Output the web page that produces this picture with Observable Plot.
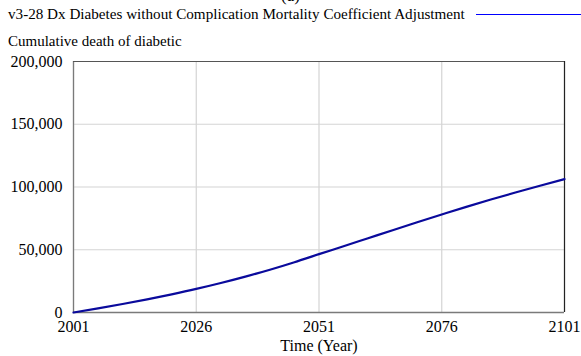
<!DOCTYPE html>
<html>
<head>
<meta charset="utf-8">
<script src="https://cdn.jsdelivr.net/npm/d3@7"></script>
<script src="https://cdn.jsdelivr.net/npm/@observablehq/plot@0.6"></script>
<style>
  html, body { margin: 0; padding: 0; background: white; }
  #wrap { position: relative; width: 581px; height: 356px; overflow: hidden; font-family: "Liberation Serif", serif; color: #000; }
  #title { position: absolute; top: -14px; left: 0; width: 581px; text-align: center; font-size: 17px; }
  #legend { position: absolute; top: 5px; left: 8px; font-size: 15.15px; white-space: nowrap; }
  #legline { position: absolute; top: 13.5px; left: 476px; width: 105px; height: 1.3px; background: #0000ff; }
  #ylabel { position: absolute; top: 33px; left: 8px; font-size: 15px; white-space: nowrap; }
  #chart { position: absolute; top: 52px; left: 0; }
</style>
</head>
<body>
<div id="wrap">
  <div id="title">(a)</div>
  <div id="legend">v3-28 Dx Diabetes without Complication Mortality Coefficient Adjustment</div>
  <div id="legline"></div>
  <div id="ylabel">Cumulative death of diabetic</div>
  <div id="chart"></div>
</div>
<script>
const years  = [2001, 2006, 2011, 2016, 2021, 2026, 2031, 2036, 2041, 2046, 2051, 2056, 2061, 2066, 2071, 2076, 2081, 2086, 2091, 2096, 2101];
const deaths = [0, 3300, 6800, 10500, 14500, 18800, 23500, 28600, 34100, 40100, 46500, 52800, 59200, 65600, 71900, 78100, 84200, 90000, 95600, 101000, 106300];
const xTicks = [2001, 2026, 2051, 2076, 2101];
const yTicks = [0, 50000, 100000, 150000, 200000];

const data = years.map((y, i) => ({year: y, value: deaths[i]}));

const chart = Plot.plot({
  width: 581,
  height: 304,
  marginLeft: 73,
  marginRight: 17,
  marginTop: 9,
  marginBottom: 44,
  style: {fontFamily: "Liberation Serif, serif", fontSize: "15px", color: "#000", background: "white"},
  x: {domain: [2001, 2101]},
  y: {domain: [0, 200000]},
  marks: [
    Plot.gridX(xTicks, {stroke: "#d4d4d4", strokeOpacity: 1, strokeWidth: 1.2}),
    Plot.gridY(yTicks, {stroke: "#d4d4d4", strokeOpacity: 1, strokeWidth: 1.2}),
    Plot.ruleX([2001], {stroke: "#7a7a7a", strokeWidth: 1.3}),
    Plot.ruleY([0], {stroke: "#7a7a7a", strokeWidth: 1.3}),
    Plot.ruleX([2101], {stroke: "#222", strokeWidth: 1.2}),
    Plot.ruleY([200000], {stroke: "#555", strokeWidth: 1.2}),
    Plot.axisX(xTicks, {tickSize: 0, tickPadding: 8, tickFormat: d => String(d), label: "Time (Year)", labelAnchor: "center", labelArrow: "none", labelOffset: 38, fontSize: 16}),
    Plot.axisY(yTicks, {tickSize: 0, tickPadding: 11, tickFormat: d3.format(","), label: null, fontSize: 16}),
    Plot.line(data, {x: "year", y: "value", stroke: "#0a0a9c", strokeWidth: 2.2, curve: "monotone-x"})
  ]
});
document.getElementById("chart").appendChild(chart);
</script>
</body>
</html>
